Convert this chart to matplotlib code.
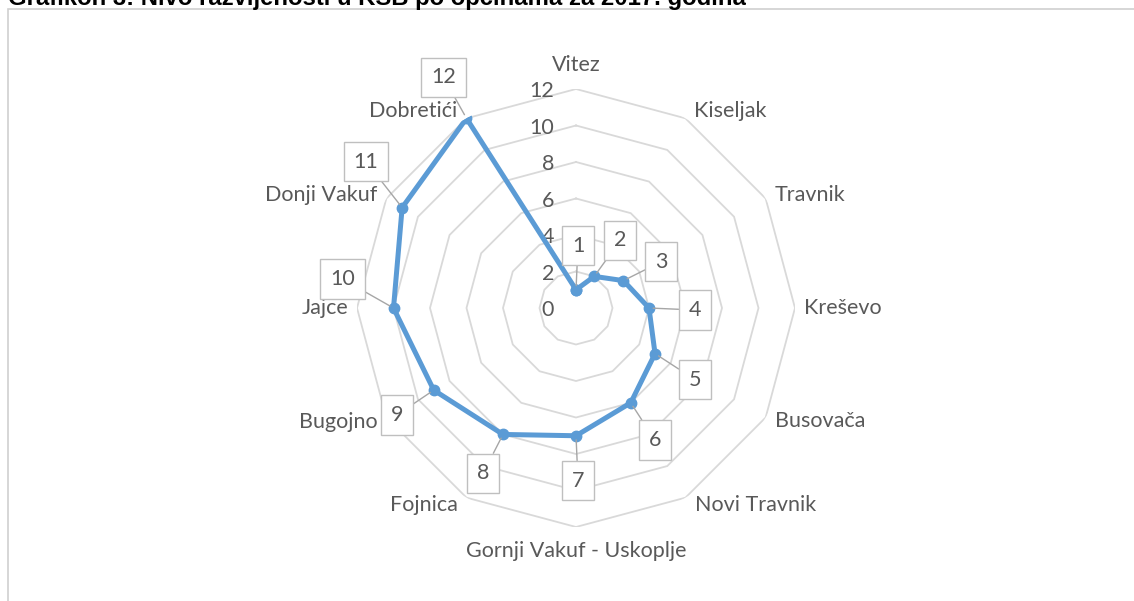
import numpy as np
import matplotlib
matplotlib.use("Agg")
import matplotlib.pyplot as plt
from matplotlib.patches import Rectangle

# data
municipalities = ['Vitez', 'Kiseljak', 'Travnik', 'Kreševo', 'Busovača', 'Novi Travnik',
                  'Gornji Vakuf - Uskoplje', 'Fojnica', 'Bugojno', 'Jajce', 'Donji Vakuf',
                  'Dobretići']
rank = [1, 2, 3, 4, 5, 6, 7, 8, 9, 10, 11, 12]
ring_ticks = [0, 2, 4, 6, 8, 10, 12]
title = 'Grafikon 3: Nivo razvijenosti u KSB po općinama za 2017. godina'

# label box offsets in pixels (dx, dy) from each point
label_offsets = [(2, 44), (26, 36), (38, 19), (46, -2), (40, -26), (24, -37),
                 (2, -45), (-20, -39), (-37, -25), (-51, 29), (-36, 46), (-23, 41)]

blue = '#5b9bd5'
grid_c = '#d9d9d9'
txt_c = '#595959'
font = 'Lato'
fs = 15.5

W, H = 1134, 601
fig = plt.figure(figsize=(W / 100, H / 100), dpi=100)

# chart border
fig.patches.append(Rectangle((8 / W, -0.1), 1.2, (H - 9) / H + 0.1, transform=fig.transFigure,
                             fill=False, ec='#d0d0d0', lw=1.2))
# title is cropped at the top edge, as in the original
fig.text(8 / W, 1 - 5 / H, title, fontsize=17.2, fontweight='bold', family='Liberation Sans',
         va='baseline', ha='left', color='black')

cx, cy, R = 576, H - 308, 219
ax = fig.add_axes([(cx - R) / W, (cy - R) / H, 2 * R / W, 2 * R / H], projection='polar')
ax.set_theta_zero_location('N')
ax.set_theta_direction(-1)
ax.set_ylim(0, 12)
ax.grid(False)
ax.spines['polar'].set_visible(False)
ax.set_xticks([])
ax.set_yticks([])
ax.patch.set_alpha(0)

n = len(municipalities)
ang = np.linspace(0, 2 * np.pi, n, endpoint=False)
ang_c = np.append(ang, ang[0])

for r in ring_ticks[1:]:
    ax.plot(ang_c, [r] * (n + 1), color=grid_c, lw=1.3, zorder=1)

for r in ring_ticks:
    ax.annotate(str(r), xy=(0, r), xytext=(-22, -2), textcoords='offset pixels',
                ha='right', va='center', fontsize=fs, color=txt_c, family=font, zorder=2)

# category labels
for a, name in zip(ang, municipalities):
    s, c = np.sin(a), np.cos(a)
    if abs(s) < 0.1:
        ha = 'center'
        va = 'bottom' if c > 0 else 'top'
        off = (0, 14 if c > 0 else -14)
    else:
        ha = 'left' if s > 0 else 'right'
        va = 'center'
        off = (9 if s > 0 else -9, 8 * c)
    ax.annotate(name, xy=(a, 12), xytext=off, textcoords='offset pixels',
                ha=ha, va=va, fontsize=fs, color=txt_c, family=font)

vals_c = rank + [rank[0]]
ax.plot(ang_c, vals_c, color=blue, lw=3.6, marker='o', ms=7.5, zorder=5)

for a, v, (dx, dy) in zip(ang, rank, label_offsets):
    ax.annotate(str(v), xy=(a, v), xytext=(dx, dy), textcoords='offset pixels',
                ha='center', va='center', fontsize=fs, color=txt_c, family=font,
                bbox=dict(boxstyle='square,pad=0.45', fc='white', ec='#bfbfbf', lw=1),
                arrowprops=dict(arrowstyle='-', color='#a6a6a6', lw=1, shrinkA=0, shrinkB=3),
                zorder=6)

fig.savefig('out.png', dpi=100)
